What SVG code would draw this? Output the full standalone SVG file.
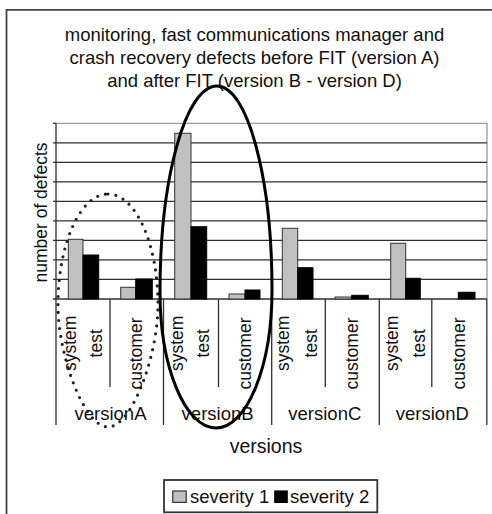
<svg xmlns="http://www.w3.org/2000/svg" width="492" height="514" viewBox="0 0 492 514">
<style>
text{font-family:"Liberation Sans",Arial,sans-serif;fill:#111}
.h{font-size:18.5px;text-anchor:middle}
.v{font-size:17.5px;text-anchor:middle}
.grid{stroke:#2e2e2e;stroke-width:1.3}
.div{stroke:#2e2e2e;stroke-width:1.3}
.g{fill:#c0c0c0;stroke:#333;stroke-width:1}
.b{fill:#000;stroke:#000;stroke-width:1}
</style>
<rect width="492" height="514" fill="#fff"/>
<g id="frame" fill="none" stroke="#444" stroke-width="1.8">
<path d="M6.5,514 V9.8 H492"/>
</g>
<g id="title">
<text class="h" x="254.5" y="40.7">monitoring, fast communications manager and</text>
<text class="h" x="254.5" y="64">crash recovery defects before FIT (version A)</text>
<text class="h" x="254.5" y="87.3">and after FIT (version B - version D)</text>
</g>
<g id="plot">
<line x1="56" y1="123.3" x2="487" y2="123.3" stroke="#9a9a9a" stroke-width="1.3"/>
<line x1="487" y1="123.3" x2="487" y2="299" stroke="#9a9a9a" stroke-width="1.3"/>
<g class="grid">
<line x1="53" y1="142.8" x2="487" y2="142.8"/>
<line x1="53" y1="162.4" x2="487" y2="162.4"/>
<line x1="53" y1="181.9" x2="487" y2="181.9"/>
<line x1="53" y1="201.4" x2="487" y2="201.4"/>
<line x1="53" y1="220.9" x2="487" y2="220.9"/>
<line x1="53" y1="240.4" x2="487" y2="240.4"/>
<line x1="53" y1="259.9" x2="487" y2="259.9"/>
<line x1="53" y1="279.4" x2="487" y2="279.4"/>
<line x1="53" y1="123.3" x2="56" y2="123.3"/>
<line x1="53" y1="299" x2="487" y2="299"/>
</g>
<g class="div">
<line x1="56" y1="123.3" x2="56" y2="425"/>
<line x1="110" y1="299" x2="110" y2="387"/>
<line x1="163.5" y1="299" x2="163.5" y2="425"/>
<line x1="218.5" y1="299" x2="218.5" y2="387"/>
<line x1="271.7" y1="299" x2="271.7" y2="425"/>
<line x1="325.3" y1="299" x2="325.3" y2="387"/>
<line x1="379.3" y1="299" x2="379.3" y2="425"/>
<line x1="431.8" y1="299" x2="431.8" y2="387"/>
<line x1="486.8" y1="299" x2="486.8" y2="425"/>
</g>
</g>
<g id="bars">
<rect class="g" x="68.3" y="239.3" width="14.7" height="59.7"/>
<rect class="b" x="83" y="255" width="15.7" height="44"/>
<rect class="g" x="120.7" y="287.3" width="15" height="11.7"/>
<rect class="b" x="135.7" y="279" width="16.6" height="20"/>
<rect class="g" x="174.7" y="133.3" width="16.3" height="165.7"/>
<rect class="b" x="191" y="226.7" width="15.7" height="72.3"/>
<rect class="g" x="229" y="294" width="16" height="5"/>
<rect class="b" x="245" y="290" width="15" height="9"/>
<rect class="g" x="282.3" y="228.3" width="15.4" height="70.7"/>
<rect class="b" x="297.7" y="267.7" width="15.3" height="31.3"/>
<rect class="g" x="335" y="297" width="16.7" height="2"/>
<rect class="b" x="351.7" y="295.3" width="16.6" height="3.7"/>
<rect class="g" x="390.7" y="243.3" width="15" height="55.7"/>
<rect class="b" x="405.7" y="278.3" width="14.6" height="20.7"/>
<rect class="b" x="458.3" y="292.3" width="16.7" height="6.7"/>
</g>
<g id="yaxis-title">
<text class="v" transform="translate(46.5,212.5) rotate(-90)">number of defects</text>
</g>
<g id="category-labels">
<text class="v" transform="translate(76,343.3) rotate(-90)">system</text>
<text class="v" transform="translate(101.5,343.3) rotate(-90)">test</text>
<text class="v" transform="translate(142,353.5) rotate(-90)">customer</text>
<text class="v" transform="translate(182.5,343.3) rotate(-90)">system</text>
<text class="v" transform="translate(209.2,343.3) rotate(-90)">test</text>
<text class="v" transform="translate(251,353.5) rotate(-90)">customer</text>
<text class="v" transform="translate(289,343.3) rotate(-90)">system</text>
<text class="v" transform="translate(316.5,343.3) rotate(-90)">test</text>
<text class="v" transform="translate(358,353.5) rotate(-90)">customer</text>
<text class="v" transform="translate(397.5,343.3) rotate(-90)">system</text>
<text class="v" transform="translate(424.8,343.3) rotate(-90)">test</text>
<text class="v" transform="translate(465,353.5) rotate(-90)">customer</text>
</g>
<g id="group-labels">
<text class="h" x="110.5" y="420.3">versionA</text>
<text class="h" x="217.6" y="420.3">versionB</text>
<text class="h" x="324.8" y="420.3">versionC</text>
<text class="h" x="432.3" y="420.3">versionD</text>
</g>
<g id="xaxis-title">
<text class="h" x="266" y="452.5" style="font-size:19.5px">versions</text>
</g>
<g id="ellipses" fill="none">
<path id="ellipse-A" d="M108,194 C135.6,194 158,243.7 158,305 C158,355 132,427 108,427 C84,427 58,355 58,305 C58,243.7 80.4,194 108,194 Z" stroke="#222" stroke-width="3.2" stroke-linecap="round" stroke-dasharray="0 8"/>
<path id="ellipse-B" d="M217,86 C247.4,86 272,177.3 272,290 C272,366.2 246.9,428 216,428 C185.1,428 160,367.1 160,292 C160,178.2 185.5,86 217,86 Z" stroke="#000" stroke-width="3"/>
</g>
<g id="legend">
<rect x="164" y="480" width="213.3" height="32.3" fill="#fff" stroke="#333" stroke-width="1.8"/>
<rect x="172.8" y="491" width="13.4" height="11.4" fill="#c0c0c0" stroke="#333" stroke-width="1.2"/>
<text x="190" y="503.3" style="font-size:18.5px">severity 1</text>
<rect x="274.8" y="491" width="12.4" height="11.4" fill="#000" stroke="#000" stroke-width="1.2"/>
<text x="290" y="503.3" style="font-size:18.5px">severity 2</text>
</g>
</svg>
